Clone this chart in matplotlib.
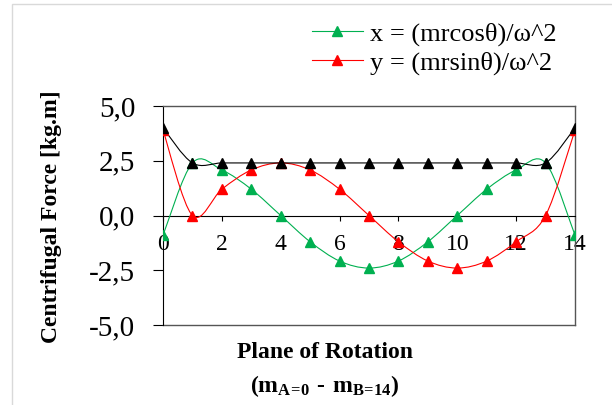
import matplotlib
matplotlib.use("Agg")
import matplotlib.pyplot as plt
import numpy as np
from matplotlib.path import Path
from matplotlib.patches import PathPatch, Rectangle
from matplotlib.lines import Line2D
from matplotlib.ticker import FuncFormatter

plt.rcParams['font.family'] = ['Liberation Serif', 'DejaVu Serif']
plt.rcParams['mathtext.fontset'] = 'custom'
plt.rcParams['mathtext.rm'] = 'Liberation Serif'
plt.rcParams['mathtext.bf'] = 'Liberation Serif:bold'

# plane numbers 0..14
planes = [0, 1, 2, 3, 4, 5, 6, 7, 8, 9, 10, 11, 12, 13, 14]
x_force = [-0.9, 2.4, 2.08, 1.2, 0.0, -1.2, -2.08, -2.4, -2.08, -1.2, 0.0, 1.2, 2.08, 2.4, -0.9]
y_force = [3.9, 0.0, 1.2, 2.08, 2.4, 2.08, 1.2, 0.0, -1.2, -2.08, -2.4, -2.08, -1.2, 0.0, 3.9]
resultant = [4.0, 2.4, 2.4, 2.4, 2.4, 2.4, 2.4, 2.4, 2.4, 2.4, 2.4, 2.4, 2.4, 2.4, 4.0]
legends = ["x = (mrcos\u03b8)/\u03c9^2", "y = (mrsin\u03b8)/\u03c9^2"]
colors = ["#00b050", "#ff0000", "#000000"]
ytick_vals = [-5.0, -2.5, 0.0, 2.5, 5.0]
xtick_vals = [0, 2, 4, 6, 8, 10, 12, 14]


def smooth_path(xs, ys):
    # excel-like smoothed line: catmull-rom turned into cubic bezier pieces
    pts = np.column_stack([xs, ys]).astype(float)
    n = len(pts)
    verts = [pts[0]]
    codes = [Path.MOVETO]
    for i in range(n - 1):
        p0 = pts[i - 1] if i > 0 else pts[i]
        p1 = pts[i]
        p2 = pts[i + 1]
        p3 = pts[i + 2] if i + 2 < n else pts[i + 1]
        c1 = p1 + (p2 - p0) / 6.0
        c2 = p2 - (p3 - p1) / 6.0
        verts += [c1, c2, p2]
        codes += [Path.CURVE4] * 3
    return Path(verts, codes)


fig = plt.figure(figsize=(6.12, 4.05), dpi=100)
ax = fig.add_axes([163/612, 1 - 325/405, 412/612, 219/405])

series = [x_force, y_force, resultant]
for vals, c in zip(series, colors):
    ax.add_patch(PathPatch(smooth_path(planes, vals), fill=False, edgecolor=c, lw=0.8, zorder=3))
    ax.plot(planes, vals, ls='none', marker='^', ms=7, color=c, zorder=4)

ax.set_xlim(0, 14)
ax.set_ylim(-5, 5)

# x axis crosses at zero, plot area box in grey
ax.spines['bottom'].set_position(('data', 0))
ax.spines['bottom'].set_color('black')
ax.spines['bottom'].set_linewidth(0.8)
ax.spines['left'].set_color('black')
ax.spines['left'].set_linewidth(0.8)
for s in ['top', 'right']:
    ax.spines[s].set_color('#555555')
    ax.spines[s].set_linewidth(1.0)
ax.plot([0, 1], [0, 0], transform=ax.transAxes, color='#555555', lw=1.0, clip_on=False)

ax.set_xticks(xtick_vals)
ax.set_yticks(ytick_vals)
ax.yaxis.set_major_formatter(FuncFormatter(lambda v, p: f"{v:.1f}".replace('.', ',')))
ax.tick_params(axis='y', direction='out', length=7, width=0.8, pad=13, labelsize=21)
ax.tick_params(axis='x', direction='out', length=3.6, width=0.8, pad=10, labelsize=17)

fig.text(52/612, 1 - 217/405, "Centrifugal Force [kg.m]", rotation=90, ha='center', va='center',
         fontsize=17, fontweight='bold')
fig.text(325/612, 1 - 353/405, "Plane of Rotation", ha='center', va='center',
         fontsize=17, fontweight='bold')
fig.text(325/612, 1 - 386/405, "$\\mathbf{(m_{A\\!=\\!0}\\ \u2010\\ m_{B\\!=\\!14})}$",
         ha='center', va='center', fontsize=17)

handles = [Line2D([], [], color=colors[0], lw=0.8, marker='^', ms=7),
           Line2D([], [], color=colors[1], lw=0.8, marker='^', ms=7)]
fig.legend(handles, legends, loc='upper left', bbox_to_anchor=(312/612, 1 - 22/405),
           frameon=False, borderaxespad=0, borderpad=0, handlelength=1.93,
           handletextpad=0.27, labelspacing=0.2, fontsize=19)

fig.add_artist(Rectangle((12/612, -0.5), 2, 1.5 - 4/405, transform=fig.transFigure,
                         fill=False, edgecolor='#d9d9d9', lw=1))

plt.savefig("out.png", dpi=100)
